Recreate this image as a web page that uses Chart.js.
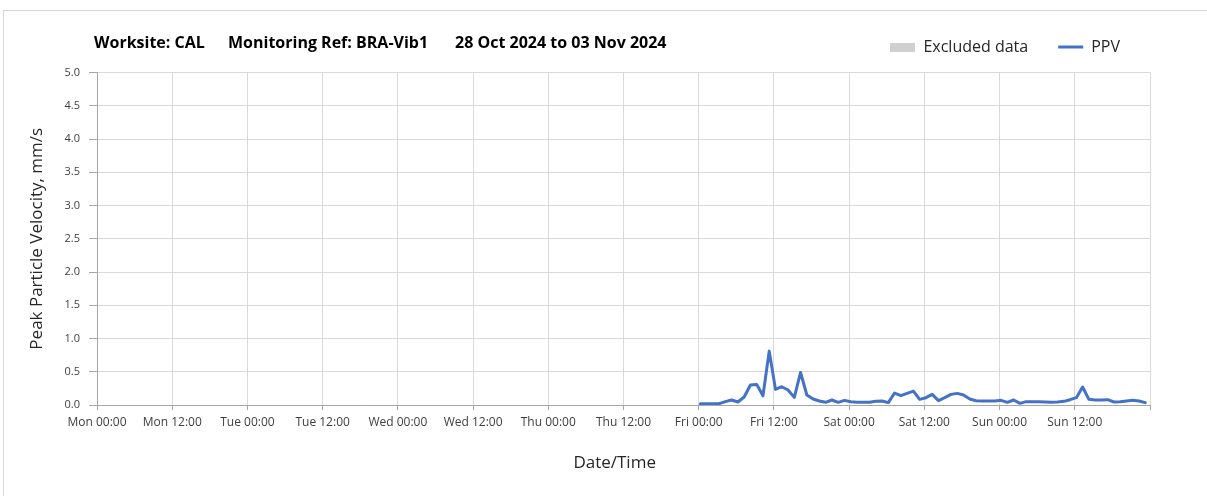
<!DOCTYPE html>
<html>
<head>
<meta charset="utf-8">
<script src="https://cdn.jsdelivr.net/npm/chart.js@4/dist/chart.umd.min.js"></script>
<style>
  html, body { margin: 0; padding: 0; background: #fff; overflow: hidden; }
  #frame { position: absolute; left: 3px; top: 10px; width: 1300px; height: 600px; border: 1px solid #d9d9d9; box-sizing: border-box; }
  #wrap { position: absolute; left: 0; top: 0; width: 1207px; height: 496px; }
</style>
</head>
<body>
<div id="frame"></div>
<div id="wrap"><canvas id="c"></canvas></div>
<script>
// ---- Data ----
const titleParts = ['Worksite: CAL', 'Monitoring Ref: BRA-Vib1', '28 Oct 2024 to 03 Nov 2024'];
const xTickLabels = ['Mon 00:00','Mon 12:00','Tue 00:00','Tue 12:00','Wed 00:00','Wed 12:00',
  'Thu 00:00','Thu 12:00','Fri 00:00','Fri 12:00','Sat 00:00','Sat 12:00','Sun 00:00','Sun 12:00',''];
// hours since Mon 00:00
const hours = [96.25,97.25,98.25,99.25,100.25,101.25,102.25,103.25,104.25,105.25,106.25,107.25,
  108.25,109.25,110.25,111.25,112.25,113.25,114.25,115.25,116.25,117.25,118.25,119.25,
  120.25,121.25,122.25,123.25,124.25,125.25,126.25,127.25,128.25,129.25,130.25,131.25,
  132.25,133.25,134.25,135.25,136.25,137.25,138.25,139.25,140.25,141.25,142.25,143.25,
  144.25,145.25,146.25,147.25,148.25,149.25,150.25,151.25,152.25,153.25,154.25,155.25,
  156.25,157.25,158.25,159.25,160.25,161.25,162.25,163.25,164.25,165.25,166.25,167.25];
const ppv = [0.02,0.02,0.02,0.02,0.05,0.075,0.045,0.12,0.30,0.31,0.14,0.81,
  0.235,0.275,0.225,0.115,0.49,0.15,0.09,0.06,0.04,0.075,0.04,0.07,
  0.05,0.04,0.04,0.04,0.055,0.06,0.035,0.18,0.14,0.175,0.21,0.085,
  0.11,0.16,0.065,0.11,0.16,0.175,0.15,0.09,0.065,0.06,0.06,0.06,
  0.07,0.04,0.075,0.025,0.05,0.05,0.05,0.045,0.04,0.045,0.055,0.08,
  0.11,0.27,0.085,0.075,0.075,0.08,0.045,0.05,0.06,0.07,0.06,0.035];
const excluded = [];

const FONT = "'Open Sans', 'DejaVu Sans', sans-serif";
const lineColor = '#4472C4';
const exclColor = '#d0d0d0';

// legend swatch for excluded data
const exclImg = document.createElement('canvas');
exclImg.width = 25; exclImg.height = 9;
(function(){ const g = exclImg.getContext('2d'); g.fillStyle = exclColor; g.fillRect(0,0,25,9); })();

const titlePlugin = {
  id: 'titleText',
  afterDraw(chart) {
    const ctx = chart.ctx;
    ctx.save();
    ctx.font = "bold 16px " + FONT;
    ctx.fillStyle = '#000';
    ctx.textBaseline = 'middle';
    ctx.textAlign = 'left';
    const xs = [94, 228, 455];
    const ws = [113, 205, 213];
    titleParts.forEach((t, i) => ctx.fillText(t, xs[i], 43, ws[i]));
    ctx.restore();
  }
};

new Chart(document.getElementById('c'), {
  type: 'line',
  data: {
    datasets: [
      { label: 'Excluded data', data: excluded, borderColor: exclColor, backgroundColor: exclColor },
      { label: 'PPV', data: hours.map((h, i) => ({ x: h, y: ppv[i] })), borderColor: lineColor,
        backgroundColor: lineColor, borderWidth: 3, pointRadius: 0, tension: 0,
        borderJoinStyle: 'round', borderCapStyle: 'round' }
    ]
  },
  options: {
    responsive: true,
    maintainAspectRatio: false,
    animation: false,
    layout: { padding: { top: 9, left: 22.8, right: 57, bottom: 18.8 } },
    plugins: {
      tooltip: { enabled: false },
      title: { display: true, text: '', weight: 500, font: { size: 1, lineHeight: 1 }, padding: { top: 6.5, bottom: 0 } },
      legend: {
        position: 'top', align: 'end', weight: 3000,
        labels: {
          usePointStyle: true, pointStyleWidth: 25, padding: 30,
          font: { family: FONT, size: 16 }, color: '#262626',
          generateLabels: () => [
            { text: 'Excluded data', fillStyle: exclColor, strokeStyle: exclColor, lineWidth: 0, pointStyle: exclImg, hidden: false, datasetIndex: 0, fontColor: '#262626' },
            { text: 'PPV', fillStyle: lineColor, strokeStyle: lineColor, lineWidth: 3, pointStyle: 'line', hidden: false, datasetIndex: 1, fontColor: '#262626' }
          ]
        }
      }
    },
    scales: {
      x: {
        type: 'linear', min: 0, max: 168,
        afterFit(s) { s.height = 72.2; },
        ticks: { stepSize: 12, autoSkip: false, maxRotation: 0, padding: 5, color: '#404040',
          font: { family: FONT, size: 12 },
          callback: (v) => xTickLabels[Math.round(v / 12)] },
        grid: { color: '#d9d9d9', tickColor: '#a6a6a6', tickLength: 5, lineWidth: 1 },
        border: { color: '#a6a6a6' },
        title: { display: true, text: 'Date/Time    ', color: '#262626', font: { family: FONT, size: 17 } }
      },
      y: {
        min: 0, max: 5,
        afterFit(s) { s.width = 74.2; },
        ticks: { stepSize: 0.5, padding: 9, color: '#404040', font: { family: FONT, size: 11 },
          callback: (v) => Number(v).toFixed(1) },
        grid: { color: '#d9d9d9', tickColor: '#a6a6a6', tickLength: 8 },
        border: { color: '#a6a6a6' },
        title: { display: true, text: 'Peak Particle Velocity, mm/s', color: '#262626', font: { family: FONT, size: 17 } }
      }
    }
  },
  plugins: [titlePlugin]
});
</script>
</body>
</html>
